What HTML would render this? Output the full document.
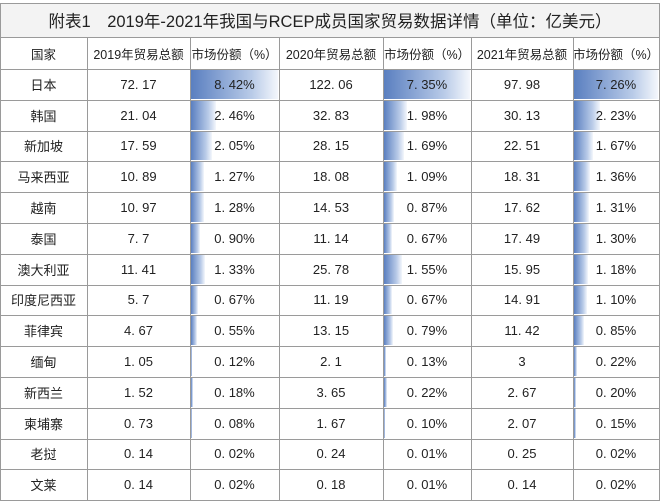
<!DOCTYPE html>
<html><head><meta charset="utf-8"><style>
body{margin:0;width:660px;height:500px;overflow:hidden;background:#fff;font-family:"Liberation Sans","Noto Sans CJK SC",sans-serif;position:relative;}
.c{position:absolute;display:flex;align-items:center;justify-content:center;font-size:13px;color:#222;white-space:nowrap;overflow:hidden;}
.l{position:absolute;background:#9a9a9a;}
.bar{position:absolute;background:linear-gradient(90deg,#5a7fc0,#b9cbe8 70%,#f4f7fc);}
</style></head><body>
<div style="position:absolute;left:0;top:3px;width:660px;height:34px;background:#f3f3f3"></div>
<div id="g"></div>
<script>
var X=[0,87,190,279,383,471,573,659],T=37,H=32,R=30.8;
var d=[["日本","72.17","8.42%","122.06","7.35%","97.98","7.26%"],["韩国","21.04","2.46%","32.83","1.98%","30.13","2.23%"],["新加坡","17.59","2.05%","28.15","1.69%","22.51","1.67%"],["马来西亚","10.89","1.27%","18.08","1.09%","18.31","1.36%"],["越南","10.97","1.28%","14.53","0.87%","17.62","1.31%"],["泰国","7.7","0.90%","11.14","0.67%","17.49","1.30%"],["澳大利亚","11.41","1.33%","25.78","1.55%","15.95","1.18%"],["印度尼西亚","5.7","0.67%","11.19","0.67%","14.91","1.10%"],["菲律宾","4.67","0.55%","13.15","0.79%","11.42","0.85%"],["缅甸","1.05","0.12%","2.1","0.13%","3","0.22%"],["新西兰","1.52","0.18%","3.65","0.22%","2.67","0.20%"],["柬埔寨","0.73","0.08%","1.67","0.10%","2.07","0.15%"],["老挝","0.14","0.02%","0.24","0.01%","0.25","0.02%"],["文莱","0.14","0.02%","0.18","0.01%","0.14","0.02%"]];
var hd=["国家","2019年贸易总额","市场份额（%）","2020年贸易总额","市场份额（%）","2021年贸易总额","市场份额（%）"];
var mx=[8.42,7.35,7.26],h="";
function cell(x,y,w,hh,t,fs){return '<div class="c" style="left:'+x+'px;top:'+y+'px;width:'+w+'px;height:'+hh+'px;'+(fs?'font-size:'+fs+'px;':'')+'">'+t+'</div>';}
h+=cell(0,3,660,34,"附表1　2019年-2021年我国与RCEP成员国家贸易数据详情（单位：亿美元）",16.5);
hd.forEach(function(t,i){h+=cell(X[i],T,X[i+1]-X[i],H,t,12.5);});
d.forEach(function(r,j){var y=T+H+j*R;r.forEach(function(c,i){var w=X[i+1]-X[i];
 if(i==2||i==4||i==6){var bw=parseFloat(c)/mx[i/2-1]*(w-2);h+='<div class="bar" style="left:'+(X[i]+1)+'px;top:'+(y+1)+'px;width:'+bw+'px;height:'+(R-2)+'px"></div>';}
 h+=cell(X[i],y,w,R,i?c.replace(".",". "):c);});});
var ys=[3,T,T+H];for(var j=1;j<=14;j++)ys.push(T+H+j*R);
ys.forEach(function(y){h+='<div class="l" style="left:0;top:'+Math.round(y)+'px;width:660px;height:1px"></div>';});
X.forEach(function(x,i){var t=(i==0||i==7)?3:T;h+='<div class="l" style="left:'+x+'px;top:'+t+'px;width:1px;height:'+(500-t)+'px"></div>';});
document.getElementById("g").innerHTML=h;
</script>
</body></html>
